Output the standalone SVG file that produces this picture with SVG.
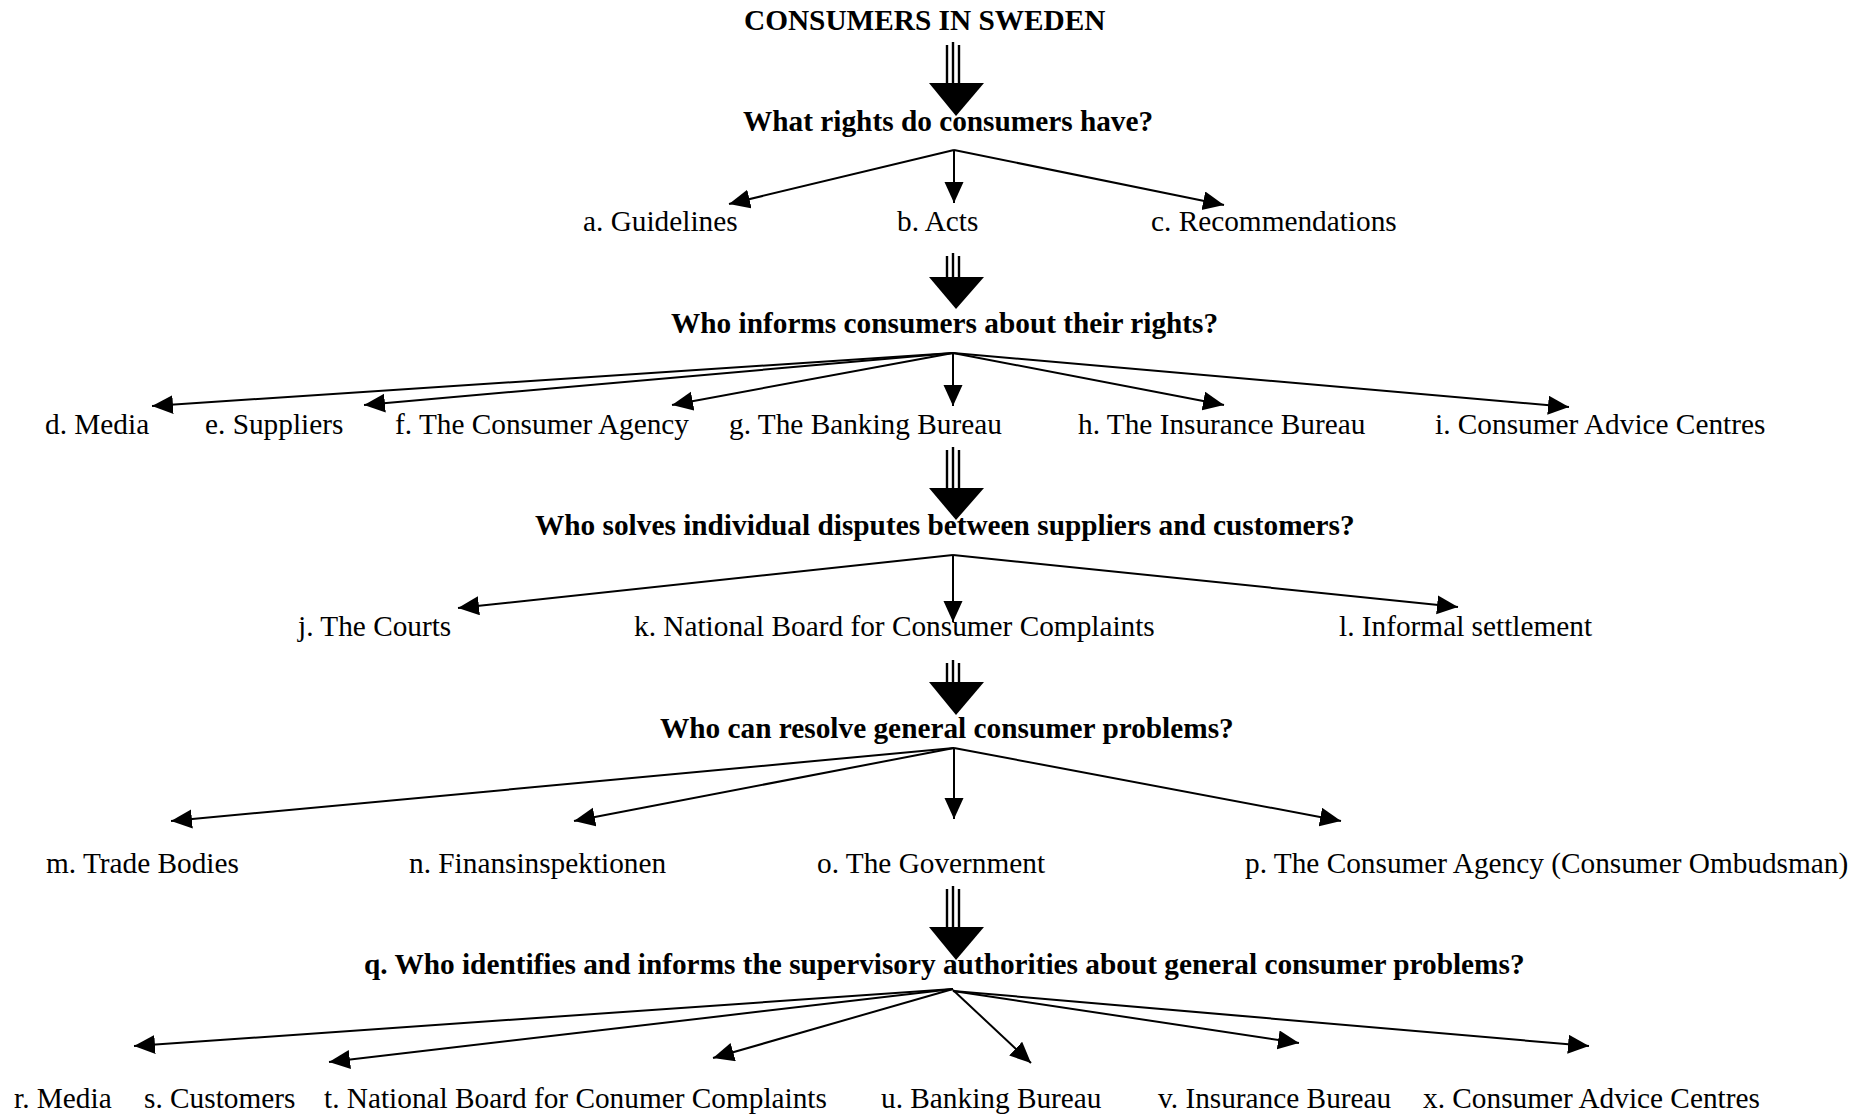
<svg xmlns="http://www.w3.org/2000/svg" width="1870" height="1116" viewBox="0 0 1870 1116">
<defs>
<style>
text{font-family:"Liberation Serif","Times New Roman",serif;font-size:29.3px;fill:#000}
.h{font-weight:bold}
.c{stroke:#000;stroke-width:2;fill:none}
.bl{stroke:#000;stroke-width:2.4}
.tri{fill:#000}
</style>
<marker id="ah" markerUnits="userSpaceOnUse" markerWidth="22" markerHeight="20" refX="21" refY="9.5" orient="auto">
<path d="M0,0 L21,9.5 L0,19 z" fill="#000"/>
</marker>
</defs>
<rect width="1870" height="1116" fill="#fff"/>

<g id="title"><text class="h" x="744" y="30">CONSUMERS IN SWEDEN</text></g>

<g id="big-arrows">
<g id="bigarrow1"><line class="bl" x1="947" y1="45" x2="947" y2="84"/><line class="bl" x1="953" y1="42" x2="953" y2="84"/><line class="bl" x1="959" y1="45" x2="959" y2="84"/><polygon class="tri" points="929,83 984,83 956,116"/></g>
<g id="bigarrow2"><line class="bl" x1="947" y1="256" x2="947" y2="278"/><line class="bl" x1="953" y1="253" x2="953" y2="278"/><line class="bl" x1="959" y1="256" x2="959" y2="278"/><polygon class="tri" points="929,277 984,277 956,309"/></g>
<g id="bigarrow3"><line class="bl" x1="947" y1="450" x2="947" y2="489"/><line class="bl" x1="953" y1="447" x2="953" y2="489"/><line class="bl" x1="959" y1="450" x2="959" y2="489"/><polygon class="tri" points="929,488 984,488 956,520"/></g>
<g id="bigarrow4"><line class="bl" x1="947" y1="663" x2="947" y2="683"/><line class="bl" x1="953" y1="660" x2="953" y2="683"/><line class="bl" x1="959" y1="663" x2="959" y2="683"/><polygon class="tri" points="929,682 984,682 956,715"/></g>
<g id="bigarrow5"><line class="bl" x1="947" y1="889" x2="947" y2="928"/><line class="bl" x1="953" y1="886" x2="953" y2="928"/><line class="bl" x1="959" y1="889" x2="959" y2="928"/><polygon class="tri" points="929,927 984,927 956,960"/></g>
</g>

<g id="q1"><text class="h" x="743" y="131">What rights do consumers have?</text></g>
<g id="a"><text x="583" y="231">a. Guidelines</text></g>
<g id="b"><text x="897" y="231">b. Acts</text></g>
<g id="c"><text x="1151" y="231">c. Recommendations</text></g>

<g id="q2"><text class="h" x="671" y="333">Who informs consumers about their rights?</text></g>
<g id="d"><text x="45" y="434">d. Media</text></g>
<g id="e"><text x="205" y="434">e. Suppliers</text></g>
<g id="f"><text x="395" y="434">f. The Consumer Agency</text></g>
<g id="g"><text x="729" y="434">g. The Banking Bureau</text></g>
<g id="h"><text x="1078" y="434">h. The Insurance Bureau</text></g>
<g id="i"><text x="1435" y="434">i. Consumer Advice Centres</text></g>

<g id="q3"><text class="h" x="535" y="535">Who solves individual disputes between suppliers and customers?</text></g>
<g id="j"><text x="298" y="636">j. The Courts</text></g>
<g id="k"><text x="634" y="636">k. National Board for Consumer Complaints</text></g>
<g id="l"><text x="1339" y="636">l. Informal settlement</text></g>

<g id="q4"><text class="h" x="660" y="738">Who can resolve general consumer problems?</text></g>
<g id="m"><text x="46" y="873">m. Trade Bodies</text></g>
<g id="n"><text x="409" y="873">n. Finansinspektionen</text></g>
<g id="o"><text x="817" y="873">o. The Government</text></g>
<g id="p"><text x="1245" y="873">p. The Consumer Agency (Consumer Ombudsman)</text></g>

<g id="q5"><text class="h" x="364" y="974">q. Who identifies and informs the supervisory authorities about general consumer problems?</text></g>
<g id="r"><text x="14" y="1108">r. Media</text></g>
<g id="s"><text x="144" y="1108">s. Customers</text></g>
<g id="t"><text x="324" y="1108">t. National Board for Conumer Complaints</text></g>
<g id="u"><text x="881" y="1108">u. Banking Bureau</text></g>
<g id="v"><text x="1158" y="1108">v. Insurance Bureau</text></g>
<g id="x"><text x="1423" y="1108">x. Consumer Advice Centres</text></g>

<g id="connectors">
<line class="c" x1="954" y1="150" x2="729" y2="204" marker-end="url(#ah)"/>
<line class="c" x1="954" y1="150" x2="954" y2="203" marker-end="url(#ah)"/>
<line class="c" x1="954" y1="150" x2="1224" y2="205" marker-end="url(#ah)"/>

<line class="c" x1="953" y1="353" x2="152" y2="406" marker-end="url(#ah)"/>
<line class="c" x1="953" y1="353" x2="364" y2="405" marker-end="url(#ah)"/>
<line class="c" x1="953" y1="353" x2="672" y2="405" marker-end="url(#ah)"/>
<line class="c" x1="953" y1="353" x2="953" y2="406" marker-end="url(#ah)"/>
<line class="c" x1="953" y1="353" x2="1224" y2="405" marker-end="url(#ah)"/>
<line class="c" x1="953" y1="353" x2="1569" y2="407" marker-end="url(#ah)"/>

<line class="c" x1="953" y1="555" x2="458" y2="608" marker-end="url(#ah)"/>
<line class="c" x1="953" y1="555" x2="953" y2="622" marker-end="url(#ah)"/>
<line class="c" x1="953" y1="555" x2="1458" y2="607" marker-end="url(#ah)"/>

<line class="c" x1="954" y1="748" x2="171" y2="821" marker-end="url(#ah)"/>
<line class="c" x1="954" y1="748" x2="574" y2="821" marker-end="url(#ah)"/>
<line class="c" x1="954" y1="748" x2="954" y2="819" marker-end="url(#ah)"/>
<line class="c" x1="954" y1="748" x2="1341" y2="821" marker-end="url(#ah)"/>

<line class="c" x1="953" y1="989" x2="134" y2="1046" marker-end="url(#ah)"/>
<line class="c" x1="953" y1="989" x2="329" y2="1062" marker-end="url(#ah)"/>
<line class="c" x1="953" y1="989" x2="713" y2="1058" marker-end="url(#ah)"/>
<line class="c" x1="953" y1="990" x2="1031" y2="1063" marker-end="url(#ah)" stroke-width="1.5"/>
<line class="c" x1="953" y1="991" x2="1299" y2="1043" marker-end="url(#ah)"/>
<line class="c" x1="953" y1="991" x2="1589" y2="1046" marker-end="url(#ah)"/>
</g>
</svg>
